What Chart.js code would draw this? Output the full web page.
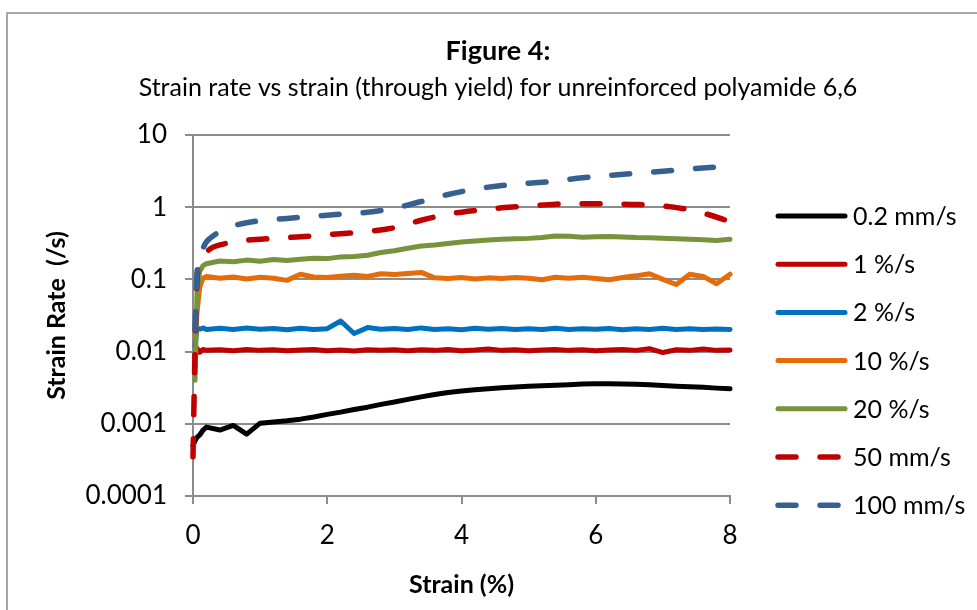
<!DOCTYPE html>
<html>
<head>
<meta charset="utf-8">
<script src="https://cdn.jsdelivr.net/npm/chart.js@4.4.0/dist/chart.umd.min.js"></script>
<style>
  html, body { margin: 0; padding: 0; background: #fff; }
</style>
</head>
<body>
<canvas id="chart" width="977" height="610"></canvas>
<script>
// ============ data ============
var seriesLabels = ["0.2 mm/s", "1 %/s", "2 %/s", "10 %/s", "20 %/s", "50 mm/s", "100 mm/s"];

// strain (%) grid shared by the solid (measured, noisy) curves
var strainFine = [0, 0.03, 0.06, 0.1, 0.15, 0.2, 0.4, 0.6, 0.8, 1.0, 1.2, 1.4, 1.6, 1.8, 2.0,
    2.2, 2.4, 2.6, 2.8, 3.0, 3.2, 3.4, 3.6, 3.8, 4.0, 4.2, 4.4, 4.6, 4.8, 5.0,
    5.2, 5.4, 5.6, 5.8, 6.0, 6.2, 6.4, 6.6, 6.8, 7.0, 7.2, 7.4, 7.6, 7.8, 8.0];

var rate02mm = [0.0005, 0.00058, 0.00065, 0.0007, 0.00082, 0.0009, 0.00082, 0.00095, 0.00072, 0.00102,
    0.00106, 0.0011, 0.00116, 0.00124, 0.00135, 0.00145, 0.00158, 0.0017, 0.00186, 0.002,
    0.00218, 0.00236, 0.00255, 0.00272, 0.00285, 0.00296, 0.00305, 0.00315, 0.00323, 0.0033,
    0.00336, 0.00342, 0.00348, 0.00355, 0.0036, 0.00358, 0.00356, 0.00352, 0.00348, 0.0034,
    0.00332, 0.00325, 0.0032, 0.00312, 0.00305];

var rate1pc = [null, 0.0094, 0.0111, 0.0098, 0.0107, 0.0104, 0.0106, 0.0103, 0.0107, 0.0104,
    0.0106, 0.0103, 0.0105, 0.0107, 0.0103, 0.0105, 0.0102, 0.0106, 0.0104, 0.0106,
    0.0103, 0.0106, 0.0104, 0.0107, 0.0103, 0.0105, 0.0109, 0.0104, 0.0106, 0.0103,
    0.0105, 0.0107, 0.0104, 0.0106, 0.0103, 0.0105, 0.0107, 0.0104, 0.011, 0.0097,
    0.0106, 0.0104, 0.0109, 0.0104, 0.0105];

var rate2pc = [null, 0.012, 0.021, 0.0205, 0.0212, 0.0203, 0.021, 0.0202, 0.0212, 0.0204,
    0.0209, 0.0201, 0.0211, 0.0203, 0.0208, 0.0265, 0.0178, 0.0215, 0.0204, 0.0209,
    0.0202, 0.0213, 0.0203, 0.0208, 0.0201, 0.021, 0.0204, 0.0209, 0.0202, 0.0208,
    0.0203, 0.021, 0.0202, 0.0208, 0.0204, 0.0209, 0.0201, 0.0208, 0.0203, 0.021,
    0.0202, 0.0207, 0.0203, 0.0206, 0.0203];

var rate10pc = [null, 0.016, 0.035, 0.078, 0.104, 0.11, 0.104, 0.108, 0.101, 0.107,
    0.104, 0.097, 0.118, 0.108, 0.106, 0.111, 0.114, 0.11, 0.12, 0.117,
    0.121, 0.125, 0.105, 0.103, 0.106, 0.101, 0.105, 0.103, 0.106, 0.104,
    0.099, 0.107, 0.104, 0.107, 0.103, 0.099, 0.106, 0.112, 0.12, 0.1,
    0.085, 0.118, 0.11, 0.087, 0.118];

var rate20pc = [null, 0.004, 0.07, 0.13, 0.155, 0.165, 0.18, 0.176, 0.185, 0.179,
    0.188, 0.183, 0.19, 0.197, 0.194, 0.205, 0.208, 0.216, 0.236, 0.25,
    0.27, 0.29, 0.3, 0.315, 0.33, 0.34, 0.35, 0.36, 0.365, 0.37,
    0.38, 0.4, 0.395, 0.385, 0.39, 0.392, 0.388, 0.38, 0.376, 0.372,
    0.366, 0.36, 0.355, 0.345, 0.36];

// dashed (smoothed) curves have their own strain points
var strain50mm = [0, 0.03, 0.06, 0.1, 0.15, 0.2, 0.3, 0.4, 0.6, 0.8, 1.0, 1.4, 1.8, 2.2, 2.6,
    3.0, 3.4, 3.8, 4.2, 4.6, 5.0, 5.4, 5.8, 6.2, 6.6, 7.0, 7.4, 7.7, 8.0];
var rate50mm = [0.00035, 0.01, 0.1, 0.17, 0.21, 0.24, 0.28, 0.3, 0.33, 0.35, 0.36, 0.38, 0.4, 0.43, 0.46,
    0.52, 0.66, 0.8, 0.9, 0.98, 1.04, 1.1, 1.12, 1.11, 1.09, 1.04, 0.92, 0.78, 0.63];

var strain100mm = [0.03, 0.06, 0.1, 0.15, 0.2, 0.3, 0.4, 0.6, 0.8, 1.0, 1.4, 1.8, 2.2, 2.6,
    3.0, 3.4, 3.8, 4.2, 4.6, 5.0, 5.4, 5.8, 6.2, 6.6, 7.0, 7.4, 7.8, 8.0];
var rate100mm = [0.02, 0.12, 0.2, 0.27, 0.33, 0.4, 0.46, 0.55, 0.61, 0.65, 0.7, 0.75, 0.8, 0.85,
    0.97, 1.2, 1.5, 1.78, 2.0, 2.15, 2.3, 2.55, 2.75, 2.95, 3.15, 3.38, 3.6, 3.7];

var yTicks = [0.0001, 0.001, 0.01, 0.1, 1, 10];
var xTicks = [0, 2, 4, 6, 8];

// ============ helpers ============
var FONT = 'Lato, "Open Sans", sans-serif';
var GRID = '#8c8c8c';

function toPoints(xs, ys) {
    var pts = [];
    xs.forEach(function (x, i) {
        if (ys[i] !== null) pts.push({ x: x, y: ys[i] });
    });
    return pts;
}

function lineSet(i, xs, ys, color, dashed) {
    return {
        label: seriesLabels[i],
        data: toPoints(xs, ys),
        borderColor: color,
        backgroundColor: color,
        borderWidth: dashed ? 5.5 : 5,
        borderDash: dashed ? [18, 24] : [],
        borderCapStyle: 'round',
        borderJoinStyle: 'round',
        pointRadius: 0,
        tension: dashed ? 0.4 : 0,
        cubicInterpolationMode: dashed ? 'monotone' : 'default',
        order: 6 - i
    };
}

// titles, frame and legend (drawn by hand so they sit where the original has them)
var decorPlugin = {
    id: 'decor',
    beforeDraw: function (chart) {
        var ctx = chart.ctx;
        ctx.save();
        ctx.fillStyle = '#fff';
        ctx.fillRect(0, 0, chart.width, chart.height);
        ctx.strokeStyle = GRID;
        ctx.lineWidth = 1.5;
        ctx.strokeRect(7, 13, 1200, 1200);
        ctx.restore();
    },
    afterDraw: function (chart) {
        var ctx = chart.ctx;
        ctx.save();
        ctx.fillStyle = '#000';
        ctx.textAlign = 'center';
        ctx.textBaseline = 'middle';
        ctx.font = 'bold 27px ' + FONT;
        ctx.fillText('Figure 4:', 498, 51);
        ctx.font = '25px ' + FONT;
        ctx.fillText('Strain rate vs strain (through yield) for unreinforced polyamide 6,6', 498, 88);

        // legend
        ctx.textAlign = 'left';
        chart.data.datasets.forEach(function (ds, i) {
            var y = 216 + i * 48.2;
            ctx.strokeStyle = ds.borderColor;
            ctx.lineWidth = ds.borderWidth;
            ctx.lineCap = 'round';
            ctx.setLineDash(ds.borderDash);
            ctx.beginPath();
            ctx.moveTo(778, y);
            ctx.lineTo(845, y);
            ctx.stroke();
            ctx.setLineDash([]);
            ctx.fillStyle = '#000';
            ctx.font = '25px ' + FONT;
            ctx.fillText(ds.label, 853, y + 1);
        });
        ctx.restore();
    }
};

// ============ chart ============
var ctx = document.getElementById('chart');

var myChart = new Chart(ctx, {
    type: 'line',
    data: {
        datasets: [
            lineSet(0, strainFine, rate02mm, '#000000', false),
            lineSet(1, strainFine, rate1pc, '#C00000', false),
            lineSet(2, strainFine, rate2pc, '#0070C0', false),
            lineSet(3, strainFine, rate10pc, '#E46C0A', false),
            lineSet(4, strainFine, rate20pc, '#77933C', false),
            lineSet(5, strain50mm, rate50mm, '#C00000', true),
            lineSet(6, strain100mm, rate100mm, '#376092', true)
        ]
    },
    options: {
        responsive: false,
        animation: false,
        clip: false,
        layout: { padding: { top: 135, right: 247, bottom: 0, left: 20 } },
        plugins: {
            legend: { display: false },
            title: { display: false },
            tooltip: { enabled: false }
        },
        scales: {
            x: {
                type: 'linear',
                min: 0,
                max: 8,
                afterBuildTicks: function (scale) {
                    scale.ticks = xTicks.map(function (v) { return { value: v }; });
                },
                afterFit: function (scale) { scale.height = 114; },
                grid: { drawOnChartArea: false, color: GRID, lineWidth: 2, tickLength: 8 },
                border: { color: GRID, width: 2 },
                ticks: { color: '#000', font: { family: FONT, size: 26 }, padding: 16, maxRotation: 0 },
                title: {
                    display: true,
                    text: 'Strain (%)',
                    color: '#000',
                    font: { family: FONT, size: 25, weight: 'bold' },
                    padding: { top: 0, bottom: 10 }
                }
            },
            y: {
                type: 'logarithmic',
                min: 0.0001,
                max: 10,
                afterBuildTicks: function (scale) {
                    scale.ticks = yTicks.map(function (v) { return { value: v }; });
                },
                afterFit: function (scale) { scale.width = 173; },
                grid: { color: GRID, lineWidth: 2, tickLength: 8 },
                border: { color: GRID, width: 2 },
                ticks: {
                    color: '#000',
                    font: { family: FONT, size: 26 },
                    padding: 18,
                    callback: function (v) { return String(v); }
                },
                title: {
                    display: true,
                    text: 'Strain Rate  (/s)',
                    color: '#000',
                    font: { family: FONT, size: 25, weight: 'bold' },
                    padding: { top: 22, bottom: 0 }
                }
            }
        }
    },
    plugins: [decorPlugin]
});
</script>
</body>
</html>
